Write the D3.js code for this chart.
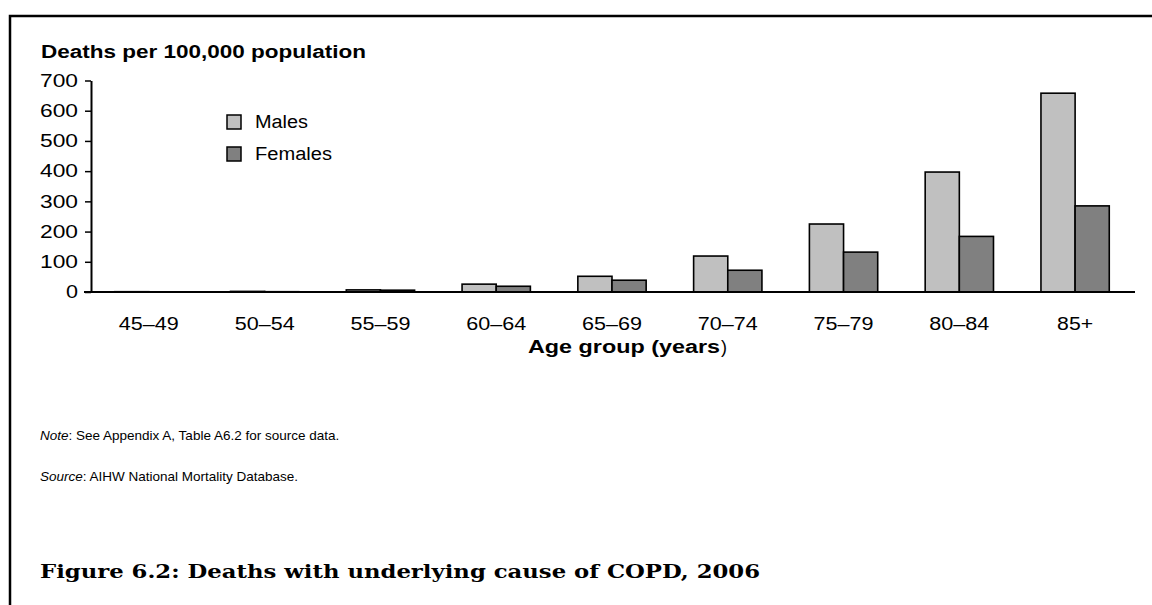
<!DOCTYPE html>
<html>
<head>
<meta charset="utf-8">
<script src="https://cdn.jsdelivr.net/npm/d3@7"></script>
<style>
  html, body { margin: 0; padding: 0; background: #fff; }
  svg { display: block; }
</style>
</head>
<body>
<svg id="chart" width="1152" height="605"></svg>
<script>
const categories = ["45–49", "50–54", "55–59", "60–64", "65–69", "70–74", "75–79", "80–84", "85+"];
const males   = [1, 2, 7, 26, 52, 119, 225, 397, 658];
const females = [0.5, 1, 6, 19, 39, 72, 132, 184, 285];
const seriesNames = ["Males", "Females"];
const yTicks = [0, 100, 200, 300, 400, 500, 600, 700];

const colors = { Males: "#c0c0c0", Females: "#808080" };
const svg = d3.select("#chart");
const sans = "'Liberation Sans', Arial, sans-serif";

// frame
svg.append("path")
  .attr("d", "M10,605 L10,16 L1152,16")
  .attr("fill", "none").attr("stroke", "#000").attr("stroke-width", 2.5);

const x0 = d3.scaleBand().domain(categories).range([91, 1133]).paddingInner(0.41).paddingOuter(0.205);
const x1 = d3.scaleBand().domain(seriesNames).range([0, x0.bandwidth()]);
const y = d3.scaleLinear().domain([0, 700]).range([292, 80.5]);

const data = categories.map((c, i) => ({ cat: c, values: [
  { key: "Males", value: males[i] }, { key: "Females", value: females[i] }] }));

// bars
const g = svg.append("g");
g.selectAll("g.grp").data(data).join("g").attr("class", "grp")
  .attr("transform", d => `translate(${x0(d.cat)},0)`)
  .selectAll("rect").data(d => d.values).join("rect")
  .attr("x", d => x1(d.key))
  .attr("width", x1.bandwidth())
  .attr("y", d => y(d.value))
  .attr("height", d => y(0) - y(d.value))
  .attr("fill", d => colors[d.key])
  .attr("stroke", "#000").attr("stroke-width", 1.6);

// y axis
const yAxis = d3.axisLeft(y).tickValues(yTicks).tickSize(6).tickPadding(7).tickSizeOuter(0);
const ya = svg.append("g").attr("transform", "translate(91,0)").call(yAxis);
ya.select(".domain").attr("stroke", "#000").attr("stroke-width", 2);
ya.selectAll(".tick line").attr("stroke", "#000").attr("stroke-width", 1.5);
ya.selectAll(".tick text")
  .attr("font-family", sans).attr("font-size", 18).attr("fill", "#000")
  .attr("textLength", 38).attr("lengthAdjust", "spacingAndGlyphs")
  .each(function(d) { if (d === 0) d3.select(this).attr("textLength", 12); });

// x baseline
svg.append("line")
  .attr("x1", x0.range()[0] - 7).attr("x2", x0.range()[1] + 2)
  .attr("y1", y(0)).attr("y2", y(0))
  .attr("stroke", "#000").attr("stroke-width", 2);

// x labels
svg.append("g").selectAll("text").data(categories).join("text")
  .attr("x", d => x0(d) + x0.bandwidth() / 2)
  .attr("y", 330)
  .attr("text-anchor", "middle")
  .attr("font-family", sans).attr("font-size", 18).attr("fill", "#000")
  .attr("textLength", d => d === "85+" ? 36 : 60).attr("lengthAdjust", "spacingAndGlyphs")
  .text(d => d);

// axis titles
svg.append("text").attr("x", 41).attr("y", 58)
  .attr("font-family", sans).attr("font-size", 18).attr("font-weight", "bold")
  .attr("textLength", 325).attr("lengthAdjust", "spacingAndGlyphs")
  .text("Deaths per 100,000 population");

const xt = svg.append("g");
xt.append("text").attr("x", 528).attr("y", 353)
  .attr("font-family", sans).attr("font-size", 18).attr("font-weight", "bold").attr("fill", "#000")
  .attr("textLength", 192).attr("lengthAdjust", "spacingAndGlyphs")
  .text("Age group (years");
xt.append("text").attr("x", 721).attr("y", 353)
  .attr("font-family", sans).attr("font-size", 18).attr("fill", "#000")
  .text(")");

// legend
const leg = svg.append("g");
seriesNames.forEach((s, i) => {
  const yy = 115 + i * 32;
  leg.append("rect").attr("x", 227).attr("y", yy).attr("width", 14).attr("height", 14)
    .attr("fill", colors[s]).attr("stroke", "#000").attr("stroke-width", 1.5);
  leg.append("text").attr("x", 255).attr("y", yy + 13)
    .attr("font-family", sans).attr("font-size", 18).attr("fill", "#000")
    .attr("textLength", s === "Males" ? 53 : 77).attr("lengthAdjust", "spacingAndGlyphs")
    .text(s);
});

// notes
const n1 = svg.append("text").attr("x", 40).attr("y", 440)
  .attr("font-family", sans).attr("font-size", 13.5).attr("fill", "#000");
n1.append("tspan").attr("font-style", "italic").text("Note");
n1.append("tspan").text(": See Appendix A, Table A6.2 for source data.");

const n2 = svg.append("text").attr("x", 40).attr("y", 481)
  .attr("font-family", sans).attr("font-size", 13.5).attr("fill", "#000");
n2.append("tspan").attr("font-style", "italic").text("Source");
n2.append("tspan").text(": AIHW National Mortality Database.");

// figure caption
svg.append("text").attr("x", 40).attr("y", 578)
  .attr("font-family", "'DejaVu Serif', 'Liberation Serif', serif").attr("font-size", 18)
  .attr("font-weight", "bold").attr("fill", "#000")
  .attr("textLength", 720).attr("lengthAdjust", "spacingAndGlyphs")
  .text("Figure 6.2: Deaths with underlying cause of COPD, 2006");
</script>
</body>
</html>
